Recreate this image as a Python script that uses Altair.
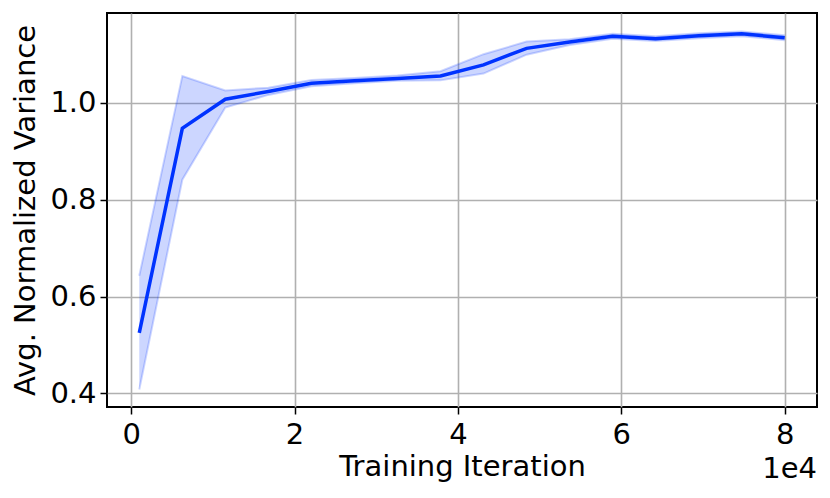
import altair as alt
import pandas as pd

# Training iteration (in units of 1e4)
iteration = [0.1, 0.627, 1.153, 1.68, 2.207, 2.733, 3.26, 3.787, 4.313, 4.84,
             5.367, 5.893, 6.42, 6.947, 7.473, 8.0]
mean_var = [0.525, 0.947, 1.007, 1.023, 1.040, 1.045, 1.050, 1.055, 1.078, 1.112,
            1.125, 1.137, 1.132, 1.138, 1.142, 1.134]
lower_var = [0.408, 0.841, 0.990, 1.016, 1.034, 1.040, 1.045, 1.046, 1.060, 1.099,
             1.119, 1.132, 1.127, 1.133, 1.137, 1.129]
upper_var = [0.643, 1.055, 1.025, 1.031, 1.047, 1.051, 1.056, 1.065, 1.100, 1.126,
             1.131, 1.142, 1.137, 1.143, 1.147, 1.139]
x_ticks = [0, 2, 4, 6, 8]
y_ticks = [0.4, 0.6, 0.8, 1.0]

df = pd.DataFrame({"it": iteration, "mean": mean_var, "lo": lower_var, "hi": upper_var})

FONT = "DejaVu Sans"
FS = 29
W, H = 710, 394

xscale = alt.Scale(domain=[-0.295, 8.395], nice=False, zero=False)
yscale = alt.Scale(domain=[0.372, 1.185], nice=False, zero=False)

xaxis = alt.Axis(values=x_ticks, format="d", title="Training Iteration", grid=True,
                 gridColor="#b0b0b0", gridWidth=1.6, domain=False, tickColor="black",
                 tickWidth=1.5, tickSize=7, labelFont=FONT, labelFontSize=FS,
                 labelColor="black", labelPadding=6, titleFont=FONT, titleFontSize=FS,
                 titleFontWeight="normal", titleColor="black", titlePadding=3)
yaxis = alt.Axis(values=y_ticks, format=".1f", title="Avg. Normalized Variance", grid=True,
                 gridColor="#b0b0b0", gridWidth=1.6, domain=False, tickColor="black",
                 tickWidth=1.5, tickSize=7, labelFont=FONT, labelFontSize=FS,
                 labelColor="black", labelPadding=4, titleFont=FONT, titleFontSize=FS,
                 titleFontWeight="normal", titleColor="black", titlePadding=9)

base = alt.Chart(df)

band = base.mark_area(color="#0033ff", opacity=0.2).encode(
    x=alt.X("it:Q", scale=xscale, axis=xaxis),
    y=alt.Y("lo:Q", scale=yscale, axis=yaxis),
    y2="hi:Q",
)
band_hi = base.mark_line(color="#0033ff", strokeOpacity=0.2, strokeWidth=2).encode(
    x=alt.X("it:Q", scale=xscale), y=alt.Y("hi:Q", scale=yscale))
band_lo = base.mark_line(color="#0033ff", strokeOpacity=0.2, strokeWidth=2).encode(
    x=alt.X("it:Q", scale=xscale), y=alt.Y("lo:Q", scale=yscale))
line = base.mark_line(color="#0033ff", strokeWidth=3.5).encode(
    x=alt.X("it:Q", scale=xscale), y=alt.Y("mean:Q", scale=yscale))

offset = alt.Chart(pd.DataFrame({"t": ["1e4"]})).mark_text(
    align="right", baseline="middle", font=FONT, fontSize=FS, color="black"
).encode(x=alt.value(W), y=alt.value(H + 62), text="t:N")

chart = alt.layer(band, band_hi, band_lo, line, offset).properties(
    width=W, height=H, autosize="none", background="white",
    padding={"left": 99, "top": 5, "right": 5, "bottom": 80},
).configure_view(stroke="#000000", strokeWidth=2, strokeOpacity=1)

chart.save("out.html", embed_options={"renderer": "svg", "actions": False})
